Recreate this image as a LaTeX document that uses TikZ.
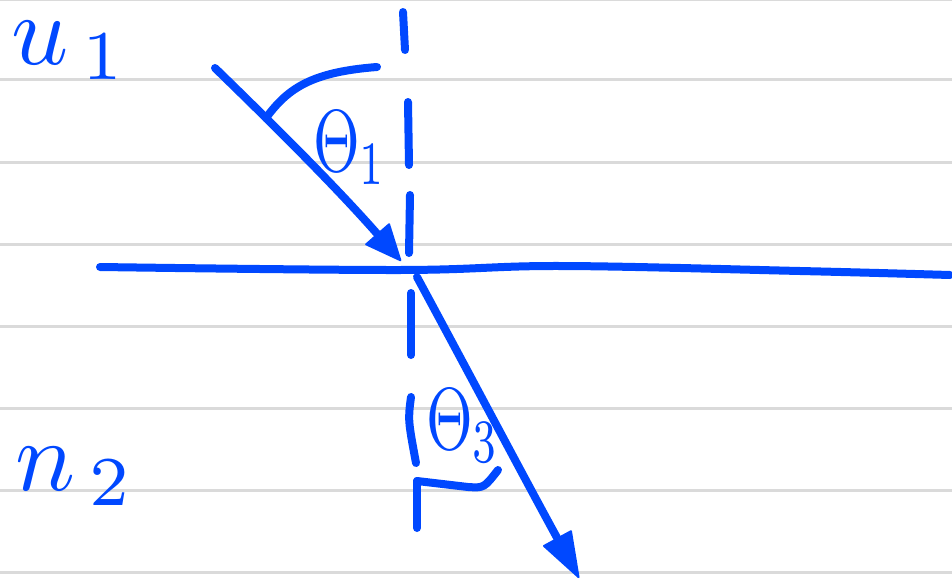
\documentclass[tikz,border=0pt]{standalone}
\usetikzlibrary{arrows.meta}
\definecolor{ink}{RGB}{0,72,255}
\definecolor{ruling}{RGB}{218,218,218}
\begin{document}
\begin{tikzpicture}[x=1pt,y=-1pt,
  inkline/.style={draw=ink,line width=8pt,line cap=round,line join=round},
  ruleline/.style={draw=ruling,line width=3pt},
  lbl/.style={text=ink,inner sep=0pt},
  head/.style={-{Triangle[length=#1,width=33pt,line width=2pt,round]}}]
\useasboundingbox[fill=white] (0,0) rectangle (952,583);
\foreach \y in {0,80,162,244,326,408,490,572} \draw[ruleline] (0,\y) -- (952,\y);
% interface
\draw[inkline] plot[smooth,tension=0.6] coordinates {(100,267) (400,270) (560,266) (800,271) (950,275)};
% normal (dashed by hand)
\coordinate (n1a) at (403,12);  \coordinate (n1b) at (405,50);
\coordinate (n2a) at (408,102); \coordinate (n2b) at (409,165);
\coordinate (n3a) at (410,195); \coordinate (n3b) at (409,253);
\coordinate (n4a) at (411,293); \coordinate (n4b) at (411,355);
\coordinate (n5a) at (411,397); \coordinate (n5b) at (416,463);
\coordinate (n6a) at (417,481); \coordinate (n6b) at (417,528);
\draw[inkline] (n1a) -- (n1b);
\draw[inkline] (n2a) -- (n2b);
\draw[inkline] (n3a) -- (n3b);
\draw[inkline] (n4a) -- (n4b);
\draw[inkline] (n5a) .. controls (408,420) .. (n5b);
\draw[inkline] (n6a) -- (n6b);
% incident ray
\coordinate (inStart) at (215,68);
\coordinate (inTip) at (401,261);
\draw[inkline,head=38pt] (inStart) .. controls (250,102) and (330,180) .. (inTip);
% refracted ray
\coordinate (outStart) at (417,277);
\coordinate (outTip) at (579,578);
\draw[inkline,head=48pt] (outStart) .. controls (470,375) and (520,470) .. (outTip);
% angle marks
\coordinate (a1s) at (266,118);
\coordinate (a1e) at (377,67);
\draw[inkline] (a1s) .. controls (288,88) and (312,72) .. (a1e);
\coordinate (a3e) at (498,470);
\draw[inkline] (n6a) -- (468,487) .. controls (484,488) .. (a3e);
% labels
\node[lbl,scale=10,anchor=base west] (u1) at (10,65) {$u_{\,1}$};
\node[lbl,scale=10,anchor=base west] (n2) at (14,490) {$n_{\,2}$};
\node[lbl,xscale=6,yscale=8.8] (t1) at (350,148) {$\Theta_1$};
\node[lbl,xscale=6,yscale=8.8] (t3) at (463,426) {$\Theta_3$};
\end{tikzpicture}
\end{document}
